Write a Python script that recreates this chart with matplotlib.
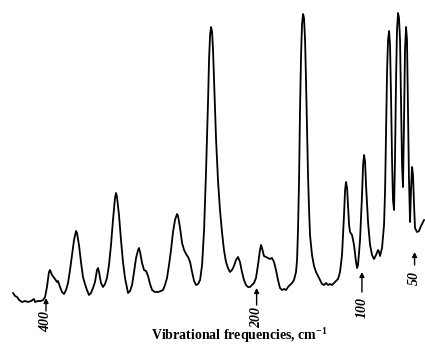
import matplotlib.pyplot as plt

plt.rcParams["mathtext.fontset"] = "custom"
plt.rcParams["mathtext.rm"] = "Liberation Serif:bold"
plt.rcParams["mathtext.default"] = "rm"

# ── Spectrum trace (frequency in cm-1, intensity in arbitrary units) ─────────
freq = [431.3, 429.4, 427.5, 425.6, 422.8, 419.9, 417.1, 414.2, 411.4, 410.4,
        407.6, 404.7, 402.8, 400.9, 399.1, 397.2, 396.2, 394.3, 391.5, 389.6,
        388.6, 386.7, 384.8, 382.9, 381.0, 379.1, 377.2, 375.3, 373.4, 371.5,
        370.6, 368.7, 366.8, 364.9, 363.0, 361.1, 359.2, 357.3, 355.4, 353.5,
        351.6, 350.6, 349.7, 347.8, 345.9, 344.0, 342.1, 340.2, 338.3, 336.4,
        334.5, 333.5, 332.6, 330.7, 328.8, 326.9, 325.0, 323.1, 322.1, 320.2,
        318.3, 316.4, 314.5, 312.6, 311.7, 310.7, 308.8, 306.9, 305.0, 303.1,
        301.2, 299.3, 296.5, 293.6, 290.8, 288.9, 287.0, 285.1, 283.2, 281.3,
        279.4, 277.5, 275.6, 274.6, 272.7, 270.8, 268.9, 267.0, 265.1, 263.2,
        261.3, 259.4, 257.5, 255.6, 253.7, 251.8, 249.9, 248.0, 246.1, 245.2,
        244.2, 243.3, 242.3, 241.4, 240.4, 239.5, 238.5, 236.7, 234.8, 232.9,
        231.0, 229.1, 227.2, 225.3, 223.4, 221.5, 219.6, 217.7, 215.8, 213.9,
        212.0, 210.1, 208.2, 206.3, 204.4, 202.5, 200.6, 198.7, 196.8, 195.8,
        194.9, 193.0, 191.1, 189.2, 187.3, 185.4, 183.5, 181.6, 179.7, 177.8,
        175.9, 174.0, 172.1, 170.2, 168.3, 166.4, 164.5, 162.6, 161.6, 160.7,
        159.7, 158.8, 157.8, 156.9, 155.9, 155.0, 154.0, 153.1, 152.1, 151.2,
        150.2, 149.3, 147.4, 145.5, 143.6, 141.7, 139.8, 137.9, 136.0, 134.1,
        132.2, 130.3, 128.4, 126.5, 124.6, 122.7, 120.8, 118.9, 117.0, 116.0,
        115.1, 114.1, 113.2, 112.2, 111.3, 109.4, 107.5, 105.6, 104.6, 103.7,
        101.8, 99.9, 98.9, 98.0, 97.0, 96.1, 94.2, 92.3, 90.4, 88.5,
        86.6, 84.7, 83.7, 82.8, 80.9, 79.0, 78.0, 77.1, 76.1, 75.2,
        74.2, 73.3, 72.3, 71.4, 70.5, 69.5, 68.6, 67.6, 66.7, 65.7,
        64.8, 63.8, 62.9, 61.9, 61.0, 60.0, 59.1, 58.1, 57.2, 56.2,
        55.3, 54.3, 53.4, 52.4, 51.5, 50.5, 49.6, 47.7, 45.8, 43.9,
        42.0, 41.0]

intensity = [56, 53, 52, 49, 47, 48, 47, 48, 50, 47,
             48, 48, 49, 52, 62, 77, 79, 74, 70, 67,
             68, 62, 57, 55, 59, 66, 79, 94, 109, 118,
             116, 104, 87, 72, 65, 59, 54, 56, 61, 67,
             79, 81, 77, 66, 62, 65, 71, 84, 104, 129,
             151, 156, 152, 134, 109, 87, 71, 61, 56, 58,
             64, 77, 91, 99, 101, 97, 86, 79, 78, 73,
             65, 59, 57, 57, 58, 59, 64, 71, 84, 99,
             117, 129, 135, 133, 121, 106, 99, 95, 92, 87,
             77, 68, 64, 65, 69, 84, 119, 179, 249, 289,
             314, 322, 317, 299, 269, 239, 209, 169, 139, 117,
             99, 87, 81, 77, 79, 83, 89, 92, 87, 77,
             69, 64, 62, 62, 64, 66, 71, 84, 99, 104,
             101, 93, 92, 91, 90, 91, 87, 79, 69, 61,
             59, 60, 59, 62, 64, 66, 69, 77, 89, 119,
             169, 239, 294, 324, 335, 331, 309, 269, 219, 174,
             139, 114, 94, 83, 77, 73, 69, 65, 64, 66,
             64, 65, 64, 66, 68, 70, 77, 94, 134, 159,
             167, 161, 144, 124, 117, 114, 104, 87, 81, 84,
             109, 154, 184, 194, 187, 164, 127, 104, 94, 90,
             94, 99, 97, 93, 101, 124, 159, 219, 279, 309,
             318, 304, 249, 189, 149, 139, 189, 269, 319, 336,
             331, 309, 249, 184, 162, 229, 299, 322, 309, 239,
             169, 127, 159, 182, 174, 144, 121, 117, 118, 123,
             127, 129]

# marked frequencies (arrows under the trace)
mark_freq = [400, 200, 100, 50]
mark_label = ["400", "200", "100", "50"]

# ── PLOT ─────────────────────────────────────────────────────────────────────
fig = plt.figure(figsize=(4.25, 3.49), dpi=100, facecolor="white")
ax = fig.add_axes([0, 0, 1, 1])
ax.plot(freq, intensity, color="black", linewidth=1.3, solid_joinstyle="round")
ax.set_xlim(443.7, 40.1)
ax.set_ylim(0, 349)
ax.axis("off")

# arrow tip / tail / label heights below the trace
tip_y  = [51, 61, 77, 97]
tail_y = [38, 44, 57, 84]
text_y = [27, 31.5, 42, 71]
for f, lab, ty, tl, tx in zip(mark_freq, mark_label, tip_y, tail_y, text_y):
    ax.annotate("", xy=(f, ty), xytext=(f, tl),
                arrowprops=dict(arrowstyle="-|>", color="black", lw=1.0,
                                mutation_scale=7, shrinkA=0, shrinkB=0))
    ax.text(f, tx, lab, rotation=90, ha="center", va="center",
            fontsize=10, fontstyle="italic", fontweight="bold",
            family="Liberation Serif")

fig.text(0.562, 0.026, r"Vibrational frequencies, cm$^{-1}$",
         ha="center", va="baseline", fontsize=10, fontweight="bold",
         family="Liberation Serif")

plt.savefig("out.png", dpi=100, facecolor="white")
